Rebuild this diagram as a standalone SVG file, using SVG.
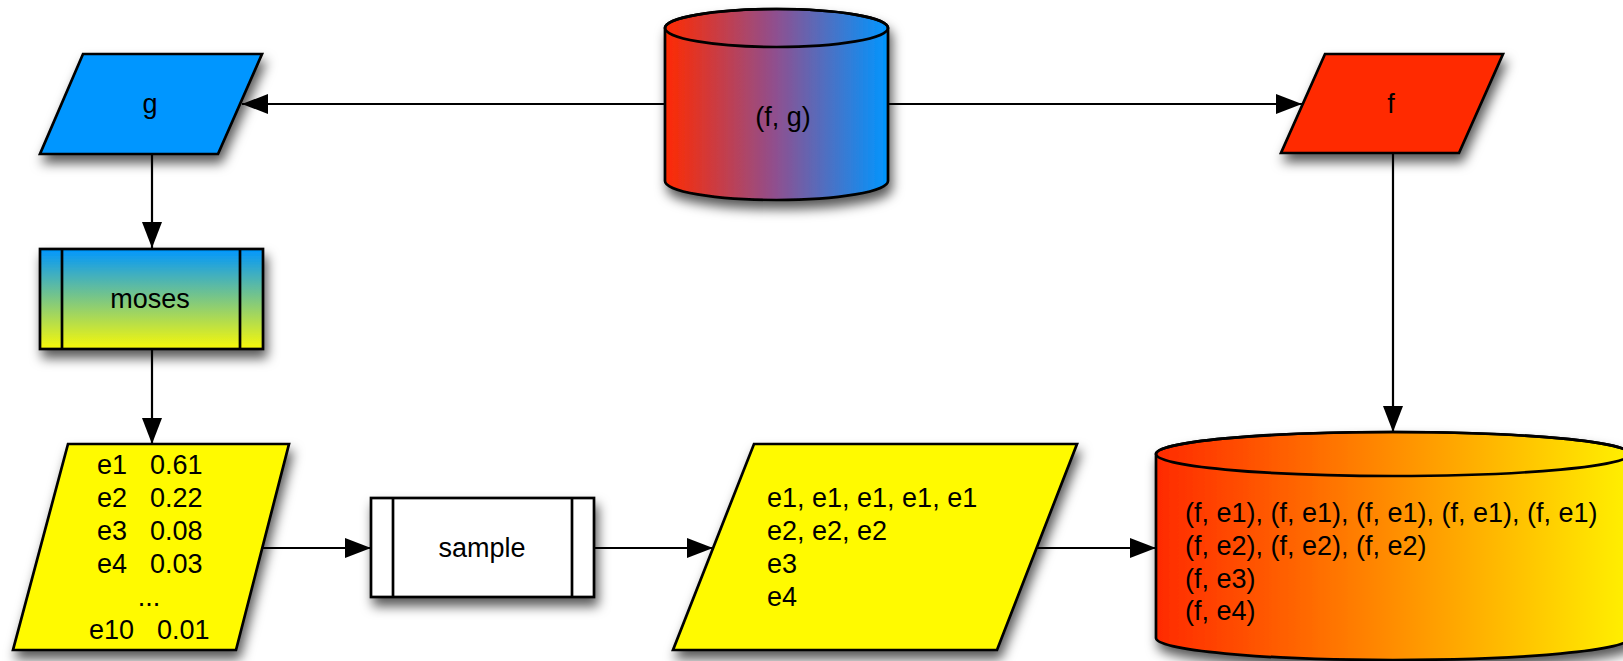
<svg xmlns="http://www.w3.org/2000/svg" width="1623" height="661" viewBox="0 0 1623 661">
<style>
  .shape { stroke: #000; stroke-width: 2.7; stroke-linejoin: miter; }
  .lbl { font-family: "Liberation Sans", Arial, sans-serif; font-size: 27px; fill: #000; }
  .mid { text-anchor: middle; }
  .conn { stroke: #000; stroke-width: 2.2; fill: none; marker-end: url(#arrow); }
</style>
<defs>
  <filter id="shadow" x="-20%" y="-20%" width="140%" height="160%">
    <feDropShadow dx="3" dy="8" stdDeviation="6" flood-color="#000" flood-opacity="0.65"/>
  </filter>
  <marker id="arrow" markerUnits="userSpaceOnUse" markerWidth="28" markerHeight="22" refX="26" refY="10" orient="auto">
    <path d="M0,0 L26,10 L0,20 z" fill="#000"/>
  </marker>
  <linearGradient id="gradFG" gradientUnits="userSpaceOnUse" x1="665" y1="0" x2="888" y2="0">
    <stop offset="0" stop-color="#FF2A00"/>
    <stop offset="0.5" stop-color="#8E5090"/>
    <stop offset="1" stop-color="#0096FF"/>
  </linearGradient>
  <linearGradient id="gradMoses" x1="0" y1="0" x2="0" y2="1">
    <stop offset="0" stop-color="#0096FF"/>
    <stop offset="1" stop-color="#F8F808"/>
  </linearGradient>
  <linearGradient id="gradOut" gradientUnits="userSpaceOnUse" x1="1156" y1="0" x2="1623" y2="0">
    <stop offset="0" stop-color="#FF2A00"/>
    <stop offset="1" stop-color="#FFEE00"/>
  </linearGradient>
</defs>
<rect width="1623" height="661" fill="#fff"/>

<g id="connectors">
  <line class="conn" x1="665" y1="104" x2="242" y2="104"/>
  <line class="conn" x1="888" y1="104" x2="1302" y2="104"/>
  <line class="conn" x1="152" y1="154" x2="152" y2="248"/>
  <line class="conn" x1="152" y1="349" x2="152" y2="444"/>
  <line class="conn" x1="1393" y1="153" x2="1393" y2="432"/>
  <line class="conn" x1="263" y1="548" x2="371" y2="548"/>
  <line class="conn" x1="594" y1="548" x2="713" y2="548"/>
  <line class="conn" x1="1037" y1="548" x2="1156" y2="548"/>
</g>

<g id="node-fg">
  <g filter="url(#shadow)">
    <path class="shape" fill="url(#gradFG)" d="M665,28 L665,181 A111.5,19 0 0 0 888,181 L888,28 A111.5,19 0 0 0 665,28 Z"/>
  </g>
  <ellipse class="shape" fill="none" cx="776.5" cy="28" rx="111.5" ry="19"/>
  <text class="lbl mid" x="783" y="126">(f, g)</text>
</g>

<g id="node-g">
  <polygon class="shape" filter="url(#shadow)" fill="#0096FF" points="83,54 262,54 218,154 40,154"/>
  <text class="lbl mid" x="150" y="113">g</text>
</g>

<g id="node-f">
  <polygon class="shape" filter="url(#shadow)" fill="#FF2A00" points="1325,54 1503,54 1459,153 1281,153"/>
  <text class="lbl mid" x="1391" y="113">f</text>
</g>

<g id="node-moses">
  <rect class="shape" filter="url(#shadow)" fill="url(#gradMoses)" x="40" y="249" width="223" height="100"/>
  <line class="shape" x1="62" y1="249" x2="62" y2="349"/>
  <line class="shape" x1="240" y1="249" x2="240" y2="349"/>
  <text class="lbl mid" x="150" y="308">moses</text>
</g>

<g id="node-scores">
  <polygon class="shape" filter="url(#shadow)" fill="#FFFA00" points="68,444 289,444 236,650 13,650"/>
  <text class="lbl" x="97" y="474">e1</text><text class="lbl" x="150" y="474">0.61</text>
  <text class="lbl" x="97" y="507">e2</text><text class="lbl" x="150" y="507">0.22</text>
  <text class="lbl" x="97" y="540">e3</text><text class="lbl" x="150" y="540">0.08</text>
  <text class="lbl" x="97" y="573">e4</text><text class="lbl" x="150" y="573">0.03</text>
  <text class="lbl mid" x="149" y="606">...</text>
  <text class="lbl" x="89" y="639">e10</text><text class="lbl" x="157" y="639">0.01</text>
</g>

<g id="node-sample">
  <rect class="shape" filter="url(#shadow)" fill="#fff" x="371" y="498" width="223" height="99"/>
  <line class="shape" x1="393" y1="498" x2="393" y2="597"/>
  <line class="shape" x1="572" y1="498" x2="572" y2="597"/>
  <text class="lbl mid" x="482" y="557">sample</text>
</g>

<g id="node-samples">
  <polygon class="shape" filter="url(#shadow)" fill="#FFFA00" points="754,444 1077,444 997,650 673,650"/>
  <text class="lbl" x="767" y="507">e1, e1, e1, e1, e1</text>
  <text class="lbl" x="767" y="540">e2, e2, e2</text>
  <text class="lbl" x="767" y="573">e3</text>
  <text class="lbl" x="767" y="606">e4</text>
</g>

<g id="node-pairs">
  <g filter="url(#shadow)">
    <path class="shape" fill="url(#gradOut)" d="M1156,454 L1156,638 A237,22 0 0 0 1630,638 L1630,454 A237,22 0 0 0 1156,454 Z"/>
  </g>
  <ellipse class="shape" fill="none" cx="1393" cy="454" rx="237" ry="22"/>
  <text class="lbl" x="1185" y="522">(f, e1), (f, e1), (f, e1), (f, e1), (f, e1)</text>
  <text class="lbl" x="1185" y="555">(f, e2), (f, e2), (f, e2)</text>
  <text class="lbl" x="1185" y="588">(f, e3)</text>
  <text class="lbl" x="1185" y="620">(f, e4)</text>
</g>
</svg>
